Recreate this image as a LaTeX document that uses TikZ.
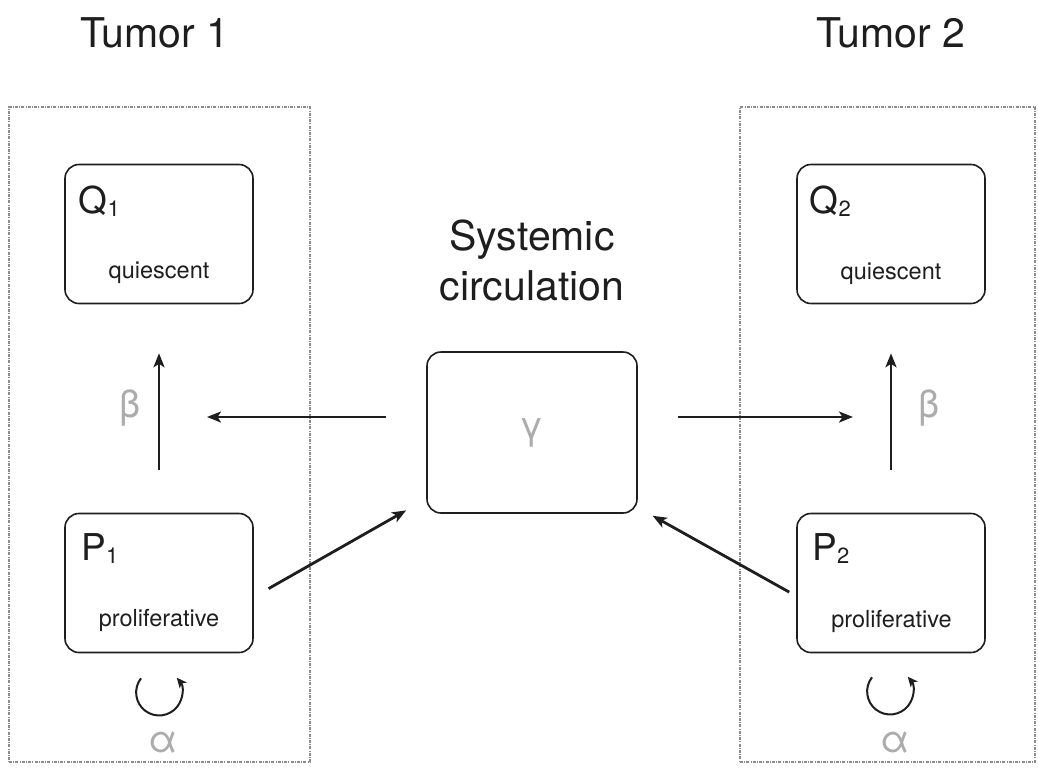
\documentclass[tikz,border=0pt]{standalone}
\usepackage{fontspec}
\setmainfont{TeX Gyre Heros}
\usetikzlibrary{arrows.meta,positioning}
\definecolor{greek}{RGB}{172,172,172}
\definecolor{framegray}{RGB}{140,140,140}
\definecolor{ink}{RGB}{30,30,30}
\newcommand{\idx}[1]{\raisebox{-3pt}{\fontsize{22}{22}\selectfont #1}}

\begin{document}
\begin{tikzpicture}[x=1pt,y=-1pt,>={Stealth[length=14pt,width=11pt,inset=3.5pt]},line width=2.8pt,draw=ink,text=ink,node distance=349pt,
  compartment/.style={draw=ink,rounded corners=14pt,line width=1.6pt,minimum width=188pt,minimum height=139pt,inner sep=0pt},
  tumorframe/.style={draw=framegray,line width=1.2pt,dash pattern=on 3pt off 1.2pt on 1pt off 1.2pt,minimum height=655pt,inner sep=0pt},
  heading/.style={font=\fontsize{41}{50}\selectfont,align=center,anchor=base},
  cellname/.style={font=\fontsize{37}{40}\selectfont,anchor=base west,inner sep=0pt},
  celltype/.style={font=\fontsize{23.5}{26}\selectfont,anchor=base,inner sep=0pt},
  rate/.style={font=\fontsize{38}{40}\selectfont,text=greek,inner sep=0pt},
  growth/.style={line width=2pt,-{Stealth[length=10pt,width=9pt,inset=2.5pt]}}]

  \useasboundingbox (0,0) rectangle (1038,774);

  \node[tumorframe,minimum width=301pt] (t1) at (159.5,434.5) {};
  \node[tumorframe,minimum width=295pt] (t2) at (887.5,434.5) {};

  \node[heading] (tum1) at (155,47) {Tumor 1};
  \node[heading] (tum2) at (891,47) {Tumor 2};
  \node[heading] (sys) at (532,300) {Systemic\\circulation};

  \node[compartment] (q1) at (159,234) {};
  \node[compartment] (p1) [below of=q1] {};
  \node[compartment] (q2) [right of=q1,node distance=732pt] {};
  \node[compartment] (p2) [below of=q2] {};
  \node[compartment,minimum width=210pt,minimum height=161pt,font=\fontsize{38}{40}\selectfont,text=greek] (gam) at (532,432.5) {γ};

  \node[cellname] (q1n) at (77.5,213) {Q\idx{1}};
  \node[celltype] (q1t) at (159,278) {quiescent};
  \node[cellname] (p1n) at (80,560) {P\idx{1}};
  \node[celltype] (p1t) at (159,626) {proliferative};
  \node[cellname] (q2n) at (808.5,213) {Q\idx{2}};
  \node[celltype] (q2t) at (891,279) {quiescent};
  \node[cellname] (p2n) at (811,560) {P\idx{2}};
  \node[celltype] (p2t) at (891.5,627) {proliferative};

  \path[->] (p1) edge[shorten <=43pt,shorten >=49pt] node[rate,left=17pt] {β} (q1)
            (p2) edge[shorten <=43pt,shorten >=49pt] node[rate,right=26pt] {β} (q2);

  \draw[->,shorten <=40pt,shorten >=47.5pt] ([yshift=15.5pt]gam.west) -- ([yshift=15.5pt]gam.west -| t1.center);
  \draw[->,shorten <=40pt,shorten >=38pt] ([yshift=15.5pt]gam.east) -- ([yshift=15.5pt]gam.east -| p2.center);
  \draw[->,shorten <=17pt,shorten >=23pt] ([yshift=-14pt]p1.east) -- ([yshift=-66.5pt]gam.west);
  \draw[->,shorten <=8pt,shorten >=17pt] ([yshift=-13pt]p2.west) -- ([yshift=-75pt]gam.east);

  % growth loops
  \coordinate (p1loop) at ([xshift=-18pt,yshift=-25pt]p1.south);
  \coordinate (p2loop) at ([xshift=-19pt,yshift=-24pt]p2.south);
  \draw[growth] (p1loop) arc[start angle=142,end angle=400,radius=23pt];
  \draw[growth] (p2loop) arc[start angle=142,end angle=400,radius=23pt];
  \node[rate] (a1) at (163,743) {α};
  \node[rate] (a2) at (895,743) {α};

\end{tikzpicture}
\end{document}
